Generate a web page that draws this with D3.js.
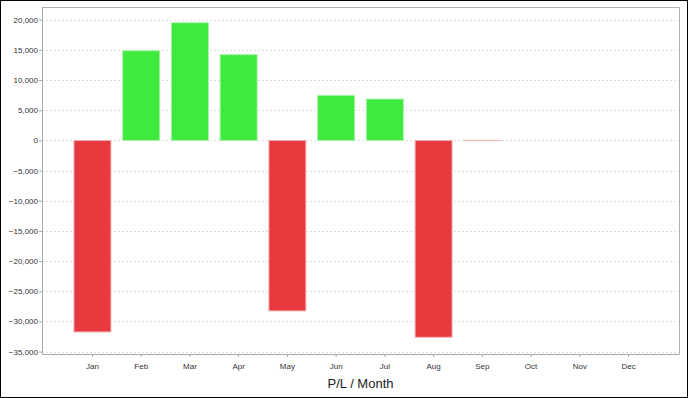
<!DOCTYPE html>
<html>
<head>
<meta charset="utf-8">
<script src="https://cdn.jsdelivr.net/npm/d3@7"></script>
<style>
  body { margin: 0; background: #fff; }
  svg { display: block; font-family: "Liberation Sans", Arial, sans-serif; }
</style>
</head>
<body>
<div id="chart"></div>
<script>
const months = ['Jan', 'Feb', 'Mar', 'Apr', 'May', 'Jun', 'Jul', 'Aug', 'Sep', 'Oct', 'Nov', 'Dec'];
const profit = [-31750, 14850, 19500, 14200, -28270, 7450, 6850, -32630, -40, null, null, null];
const yTicks = [20000, 15000, 10000, 5000, 0, -5000, -10000, -15000, -20000, -25000, -30000, -35000];
const title = 'P/L / Month';

const W = 688, H = 398;
const margin = {top: 7, right: 9, bottom: 44, left: 42},
      width = W - margin.left - margin.right,
      height = H - margin.top - margin.bottom;

const svg = d3.select('#chart')
  .append('svg')
  .attr('width', W)
  .attr('height', H);

// outer frame
svg.append('rect')
  .attr('x', 0.5).attr('y', 0.5)
  .attr('width', W - 1).attr('height', H - 1)
  .attr('fill', '#fff')
  .attr('stroke', '#000');

const g = svg.append('g')
  .attr('transform', 'translate(' + margin.left + ',' + margin.top + ')');

const x = d3.scaleBand()
  .domain(months)
  .range([0, width])
  .paddingOuter(0.655)
  .paddingInner(0.24);

const y = d3.scaleLinear()
  .domain([-35400, 22100])
  .range([height, 0]);

// grid
g.append('g')
  .selectAll('line')
  .data(yTicks)
  .enter()
  .append('line')
  .attr('x1', 0)
  .attr('x2', width)
  .attr('y1', (d) => Math.round(y(d)) + 0.5)
  .attr('y2', (d) => Math.round(y(d)) + 0.5)
  .attr('stroke', '#dddddd')
  .attr('stroke-dasharray', '2,2');

// bars
const data = months.map((m, i) => ({month: m, value: profit[i]}))
  .filter((d) => d.value !== null);

g.selectAll('.bar')
  .data(data)
  .enter()
  .append('rect')
  .attr('class', 'bar')
  .attr('x', (d) => x(d.month))
  .attr('y', (d) => y(Math.max(0, d.value)))
  .attr('width', x.bandwidth())
  .attr('height', (d) => Math.abs(y(d.value) - y(0)))
  .attr('fill', (d) => d.value >= 0 ? '#3eea3e' : '#e8393e')
  .attr('stroke', (d) => d.value >= 0 ? '#a8f2a8' : '#f2b8ba')
  .attr('stroke-width', 1);

// plot frame (top / right)
g.append('path')
  .attr('d', 'M0,0.5H' + (width + 0.5) + 'V' + height)
  .attr('fill', 'none')
  .attr('stroke', '#b0b0b0');

// y axis
const yAxis = g.append('g')
  .attr('class', 'axis axis--y')
  .call(d3.axisLeft(y).tickValues(yTicks).tickSize(3).tickSizeOuter(0)
    .tickFormat(d3.format(',')));

// x axis
const xAxis = g.append('g')
  .attr('class', 'axis axis--x')
  .attr('transform', 'translate(0,' + height + ')')
  .call(d3.axisBottom(x).tickSize(3).tickSizeOuter(0));

[yAxis, xAxis].forEach((a) => {
  a.select('.domain').attr('stroke', '#a8a8a8');
  a.selectAll('.tick line').attr('stroke', '#a8a8a8');
  a.selectAll('.tick text')
    .attr('fill', '#333')
    .style('font-size', '8px')
    .style('font-family', '"Liberation Sans", Arial, sans-serif');
});
xAxis.selectAll('.tick text').attr('dy', '1.1em');
yAxis.selectAll('.tick text').attr('x', -4);

svg.append('text')
  .attr('x', margin.left + width / 2)
  .attr('y', 388)
  .attr('text-anchor', 'middle')
  .attr('fill', '#222')
  .style('font-size', '13px')
  .text(title);
</script>
</body>
</html>
